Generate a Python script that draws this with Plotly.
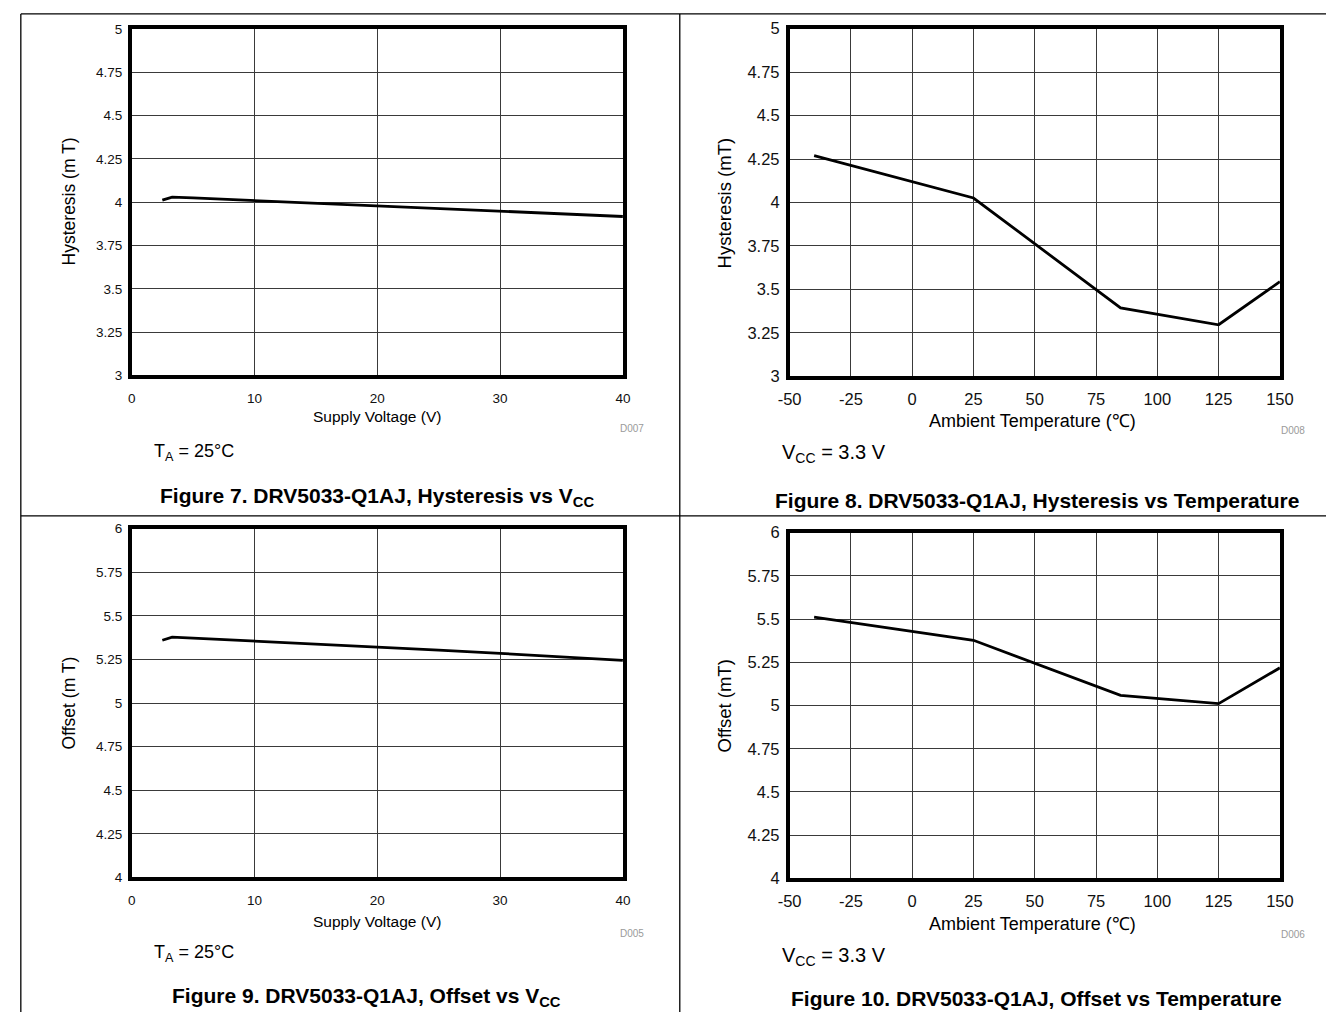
import plotly.graph_objects as go

W, H = 1340, 1021

# ---- data ----
vcc_hyst = [2.5, 3.3, 5, 10, 15, 20, 25, 30, 35, 40]
hyst_vcc = [4.012, 4.03, 4.025, 4.01, 3.995, 3.98, 3.965, 3.95, 3.935, 3.918]

temp_hyst = [-40, 25, 85, 125, 150]
hyst_temp = [4.27, 4.026, 3.394, 3.297, 3.545]

vcc_off = [2.5, 3.3, 5, 10, 15, 20, 25, 30, 35, 40]
off_vcc = [5.36, 5.378, 5.372, 5.356, 5.339, 5.322, 5.304, 5.285, 5.266, 5.245]

temp_off = [-40, 25, 85, 125, 150]
off_temp = [5.511, 5.377, 5.059, 5.011, 5.218]

vcc_ticks = [0, 10, 20, 30, 40]
temp_ticks = [-50, -25, 0, 25, 50, 75, 100, 125, 150]
hyst_ticks = [3, 3.25, 3.5, 3.75, 4, 4.25, 4.5, 4.75, 5]
off_ticks = [4, 4.25, 4.5, 4.75, 5, 5.25, 5.5, 5.75, 6]

FONT = "Liberation Sans, Arial, sans-serif"

def px(x):
    return x / W

def py(y):
    return 1 - y / H

fig = go.Figure()

panels = [
    ("x", "y", vcc_hyst, hyst_vcc, [0, 40], vcc_ticks, [3, 5], hyst_ticks, (122, 623), (20.5, 373), 13.5, 8),
    ("x2", "y2", temp_hyst, hyst_temp, [-50, 150], temp_ticks, [3, 5], hyst_ticks, (793, 1293), (20, 374), 16.5, 5),
    ("x3", "y3", vcc_off, off_vcc, [0, 40], vcc_ticks, [4, 6], off_ticks, (122, 623), (529, 884), 13.5, 8),
    ("x4", "y4", temp_off, off_temp, [-50, 150], temp_ticks, [4, 6], off_ticks, (793, 1293), (533, 885), 16.5, 5),
]

layout_axes = {}
for i, (xa, ya, xd, yd, xr, xt, yr, yt, xdom, ydom, fs, xso) in enumerate(panels):
    fig.add_trace(go.Scatter(x=xd, y=yd, mode="lines", xaxis=xa, yaxis=ya,
                             line=dict(color="black", width=2.8), showlegend=False,
                             hoverinfo="skip"))
    xname = "xaxis" if i == 0 else f"xaxis{i+1}"
    yname = "yaxis" if i == 0 else f"yaxis{i+1}"
    layout_axes[xname] = dict(
        domain=[px(xdom[0]), px(xdom[1])], range=xr, tickvals=xt,
        ticktext=[str(v) for v in xt], anchor=ya,
        showgrid=True, gridcolor="#3a3a3a", gridwidth=1, zeroline=False,
        showline=True, mirror=True, linecolor="black", linewidth=3.5,
        ticks="", tickfont=dict(family=FONT, size=fs, color="#111"),
        ticklabelstandoff=xso,
    )
    layout_axes[yname] = dict(
        domain=[py(ydom[1]), py(ydom[0])], range=yr, tickvals=yt,
        ticktext=[f"{v:g}" for v in yt], anchor=xa,
        showgrid=True, gridcolor="#3a3a3a", gridwidth=1, zeroline=False,
        showline=True, mirror=True, linecolor="black", linewidth=3.5,
        ticks="", tickfont=dict(family=FONT, size=fs, color="#111"),
        ticklabelstandoff=3,
    )

fig.update_layout(**layout_axes)

ann = []

def text(x, y, s, size, color="black", xanchor="center", yanchor="middle", angle=0):
    ann.append(dict(x=px(x), y=py(y), xref="paper", yref="paper", text=s,
                    showarrow=False, xanchor=xanchor, yanchor=yanchor, textangle=angle,
                    font=dict(family=FONT, size=size, color=color)))

# axis titles
text(372, 415, "Supply Voltage (V)", 15.5)
text(1041, 419, "Ambient Temperature (\u2103)", 18)
text(372, 929, "Supply Voltage (V)", 15.5)
text(1041, 931, "Ambient Temperature (\u2103)", 18)

text(58, 196, "Hysteresis (m T)", 17.5, angle=-90)
text(727, 197, "Hysteresis (mT)", 18.5, angle=-90)
text(58, 706, "Offset (m T)", 17.5, angle=-90)
text(727, 709, "Offset (mT)", 18.5, angle=-90)

# drawing ids
text(632, 427, "D007", 10, color="#9a9a9a")
text(1306, 429, "D008", 10, color="#9a9a9a")
text(632, 941, "D005", 10, color="#9a9a9a")
text(1306, 942, "D006", 10, color="#9a9a9a")

# conditions
text(143, 451, "T<sub>A</sub> = 25\u00b0C", 18, xanchor="left")
text(783, 452, "V<sub>CC</sub> = 3.3 V", 20, xanchor="left")
text(143, 961, "T<sub>A</sub> = 25\u00b0C", 18, xanchor="left")
text(783, 964, "V<sub>CC</sub> = 3.3 V", 20, xanchor="left")

# captions
text(372, 497, "<b>Figure 7. DRV5033-Q1AJ, Hysteresis vs V<sub>CC</sub></b>", 21)
text(1045, 500, "<b>Figure 8. DRV5033-Q1AJ, Hysteresis vs Temperature</b>", 21)
text(362, 1006, "<b>Figure 9. DRV5033-Q1AJ, Offset vs V<sub>CC</sub></b>", 21)
text(1045, 1007, "<b>Figure 10. DRV5033-Q1AJ, Offset vs Temperature</b>", 21)

# page frame lines
shapes = []
def line(x0, y0, x1, y1):
    shapes.append(dict(type="line", xref="paper", yref="paper",
                       x0=px(x0), y0=py(y0), x1=px(x1), y1=py(y1),
                       line=dict(color="black", width=1.3)))

line(9, 5, 1340, 5)
line(9, 5, 9, 1021)
line(681, 5, 681, 1021)
line(9, 516, 1340, 516)

fig.update_layout(
    width=W, height=H, margin=dict(l=0, r=0, t=0, b=0),
    paper_bgcolor="white", plot_bgcolor="white",
    annotations=ann, shapes=shapes, showlegend=False,
)

fig.write_html("out.html", config={"displayModeBar": False},
               post_script="document.body.style.margin='0';")
